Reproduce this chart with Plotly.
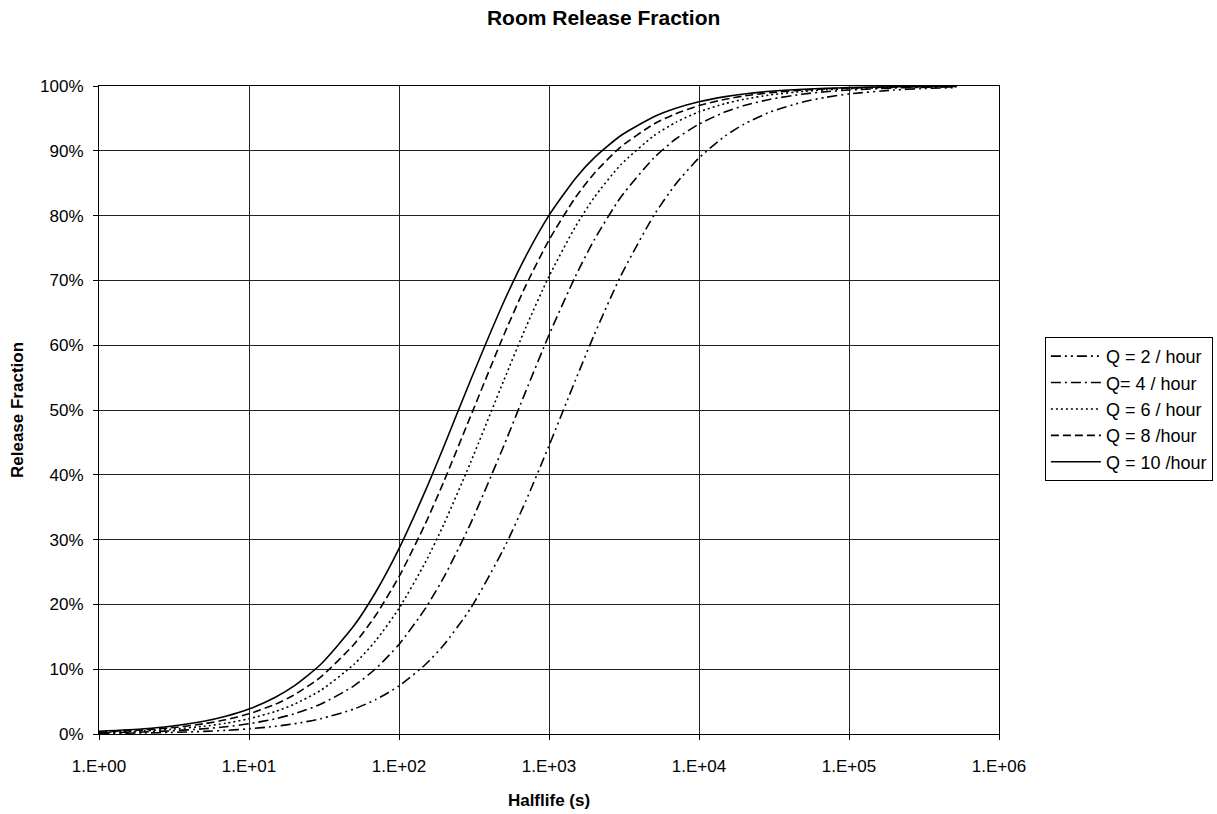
import plotly.graph_objects as go

halflife = [1, 2, 3, 5, 7, 10, 15, 20, 30, 50, 70, 100, 150, 200, 300, 500, 700,
            1000, 1500, 2000, 3000, 5000, 7000, 10000, 15000, 20000, 30000, 50000,
            70000, 100000, 200000, 300000, 520000]

q2 = [0.0008, 0.0016, 0.0024, 0.0040, 0.0056, 0.0080, 0.0119, 0.0158, 0.0235, 0.0385,
      0.0531, 0.0742, 0.1073, 0.1382, 0.1938, 0.2861, 0.3594, 0.4449, 0.5459, 0.6158,
      0.7063, 0.8003, 0.8487, 0.8891, 0.9232, 0.9413, 0.9601, 0.9757, 0.9825, 0.9877,
      0.9938, 0.9959, 0.9976]
q4 = [0.0016, 0.0032, 0.0048, 0.0080, 0.0111, 0.0158, 0.0235, 0.0311, 0.0459, 0.0742,
      0.1009, 0.1382, 0.1938, 0.2428, 0.3247, 0.4449, 0.5288, 0.6158, 0.7063, 0.7623,
      0.8279, 0.8891, 0.9182, 0.9413, 0.9601, 0.9698, 0.9796, 0.9877, 0.9912, 0.9938,
      0.9969, 0.9979, 0.9988]
q6 = [0.0024, 0.0048, 0.0072, 0.0119, 0.0166, 0.0235, 0.0348, 0.0459, 0.0673, 0.1073,
      0.1441, 0.1938, 0.2651, 0.3247, 0.4191, 0.5459, 0.6273, 0.7063, 0.7829, 0.8278,
      0.8782, 0.9232, 0.9439, 0.9601, 0.9730, 0.9796, 0.9863, 0.9918, 0.9941, 0.9959,
      0.9979, 0.9986, 0.9992]
q8 = [0.0032, 0.0064, 0.0095, 0.0158, 0.0220, 0.0311, 0.0459, 0.0603, 0.0877, 0.1382,
      0.1833, 0.2428, 0.3247, 0.3907, 0.4903, 0.6158, 0.6918, 0.7623, 0.8279, 0.8651,
      0.9058, 0.9413, 0.9573, 0.9698, 0.9796, 0.9846, 0.9897, 0.9938, 0.9956, 0.9969,
      0.9984, 0.9990, 0.9994]
q10 = [0.0040, 0.0080, 0.0119, 0.0196, 0.0273, 0.0385, 0.0567, 0.0742, 0.1073, 0.1669,
       0.2191, 0.2861, 0.3755, 0.4449, 0.5459, 0.6671, 0.7372, 0.8003, 0.8574, 0.8891,
       0.9232, 0.9525, 0.9656, 0.9757, 0.9836, 0.9877, 0.9918, 0.9950, 0.9964, 0.9975,
       0.9988, 0.9992, 0.9995]

series_names = ["Q = 2 / hour", "Q= 4 / hour", "Q = 6 / hour", "Q = 8 /hour", "Q = 10 /hour"]
series_values = [q2, q4, q6, q8, q10]
dash_styles = ["10px,4px,2px,4px,2px,4px", "10px,4px,2px,4px", "2px,3px", "8px,4px", "solid"]

x_tickvals = [1, 10, 100, 1000, 10000, 100000, 1000000]
x_ticktext = ["1.E+00", "1.E+01", "1.E+02", "1.E+03", "1.E+04", "1.E+05", "1.E+06"]
y_tickvals = [0, 0.1, 0.2, 0.3, 0.4, 0.5, 0.6, 0.7, 0.8, 0.9, 1.0]
y_ticktext = ["0%", "10%", "20%", "30%", "40%", "50%", "60%", "70%", "80%", "90%", "100%"]

FONT = "Liberation Sans, Arial, sans-serif"

fig = go.Figure()
for i, (name, vals, dash) in enumerate(zip(series_names, series_values, dash_styles)):
    fig.add_trace(go.Scatter(
        x=halflife, y=vals, mode="lines", name=name,
        line=dict(color="black", width=1.6, dash=dash, shape="spline", smoothing=0.6),
        legendgroup=f"g{i}",
    ))

fig.update_layout(
    width=1217, height=814,
    paper_bgcolor="white", plot_bgcolor="white",
    margin=dict(l=99, r=218, t=86, b=80, autoexpand=False),
    font=dict(family=FONT, size=17, color="black"),
    title=dict(text="<b>Room Release Fraction</b>", x=0.496, xref="container", xanchor="center",
               y=0.978, yref="container", yanchor="middle",
               font=dict(size=21, family=FONT, color="black")),
    showlegend=True,
    legend=dict(x=1.051, y=0.6127, xanchor="left", yanchor="top",
                bordercolor="black", borderwidth=1, bgcolor="white",
                font=dict(size=18, family=FONT), tracegroupgap=10,
                itemwidth=50, traceorder="normal"),
    xaxis=dict(type="log", range=[0, 6], tickvals=x_tickvals, ticktext=x_ticktext,
               showgrid=True, gridcolor="#222222", gridwidth=1, automargin=False,
               showline=True, linecolor="black", linewidth=1, mirror=True,
               ticks="outside", ticklen=5, tickcolor="black", ticklabelstandoff=12,
               tickfont=dict(size=17),
               title=dict(text="<b>Halflife (s)</b>", font=dict(size=17, family=FONT), standoff=18),
               zeroline=False),
    yaxis=dict(range=[0, 1.0], tickvals=y_tickvals, ticktext=y_ticktext,
               showgrid=True, gridcolor="#222222", gridwidth=1, automargin=False,
               showline=True, linecolor="black", linewidth=1, mirror=True,
               ticks="outside", ticklen=5, tickcolor="black", ticklabelstandoff=6,
               tickfont=dict(size=17),
               title=dict(text="<b>Release Fraction</b>", font=dict(size=17, family=FONT), standoff=12),
               zeroline=False),
)

fig.write_html("out.html", config={"displayModeBar": False},
               post_script="document.body.style.margin='0px';")
